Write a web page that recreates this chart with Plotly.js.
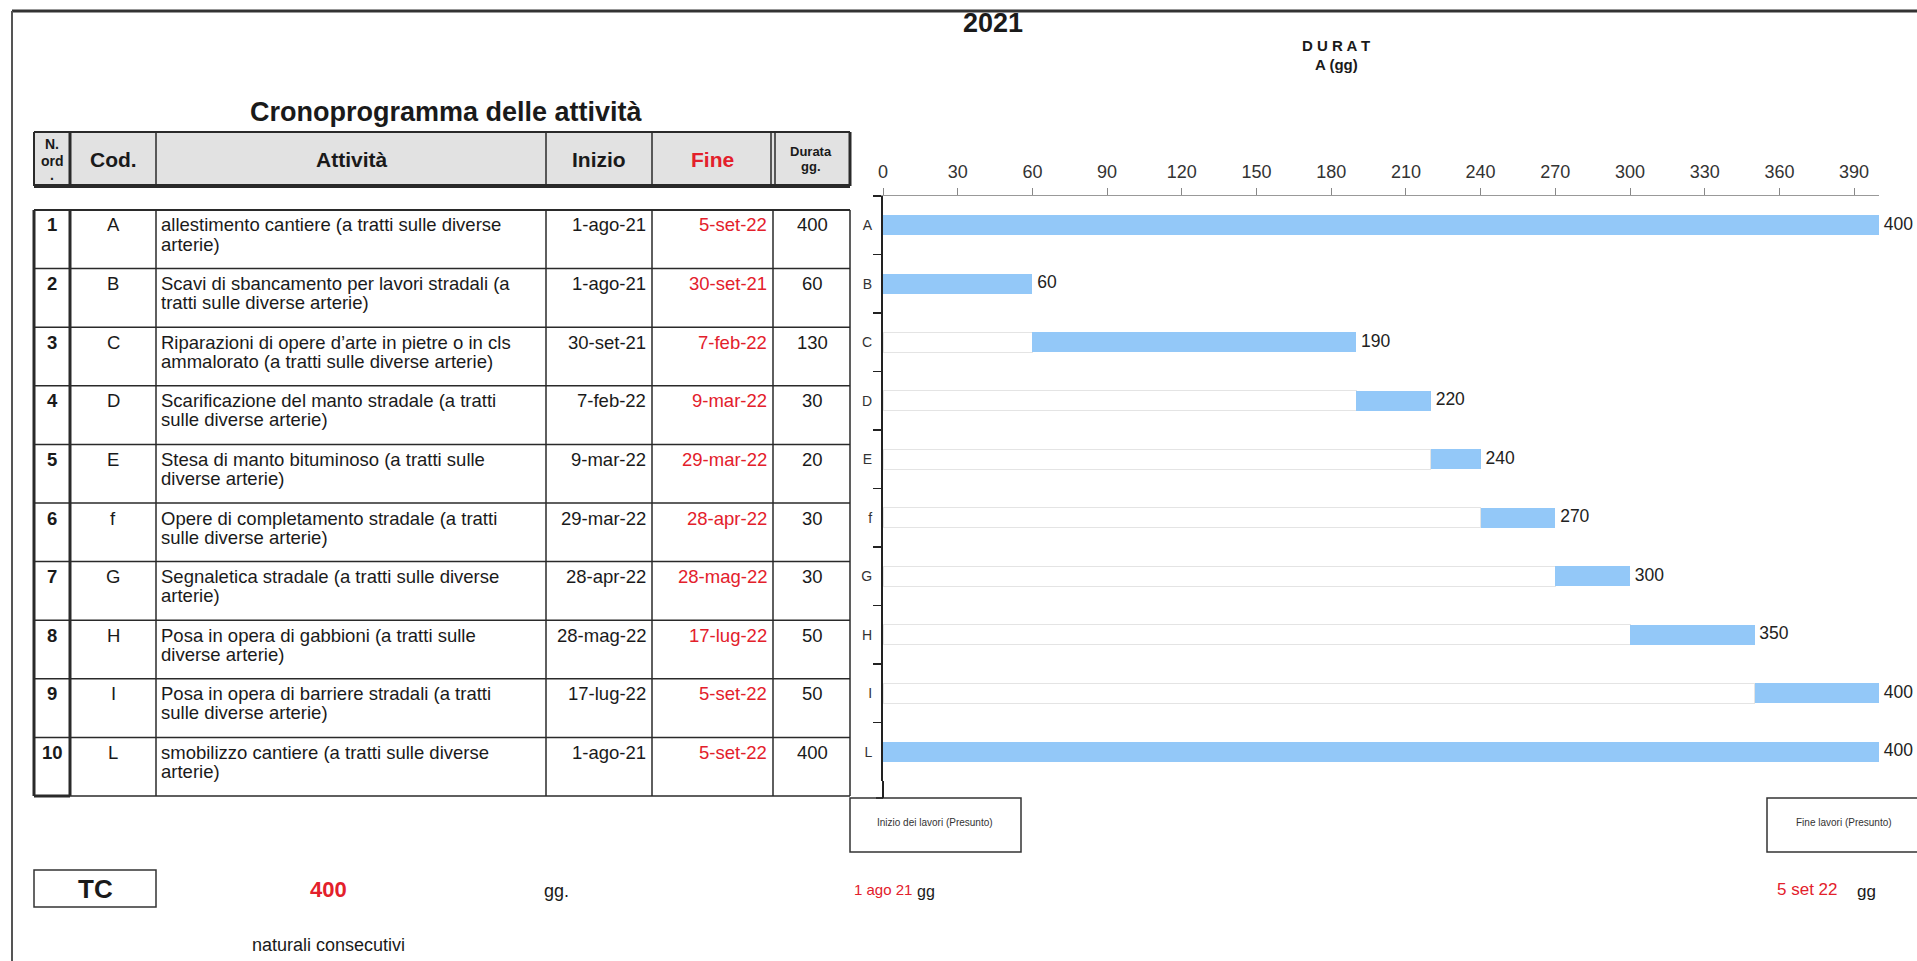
<!DOCTYPE html>
<html>
<head>
<meta charset="utf-8">
<script src="https://cdn.plot.ly/plotly-3.0.1.min.js"></script>
<style>
html,body{margin:0;padding:0;background:#fff;}
#chart{width:1917px;height:961px;}
</style>
</head>
<body>
<div id="chart"></div>
<script>
// ---------- DATA ----------
const nOrd = [1, 2, 3, 4, 5, 6, 7, 8, 9, 10];
const codes = ["A", "B", "C", "D", "E", "f", "G", "H", "I", "L"];
const activities = [
  "allestimento cantiere (a tratti sulle diverse|arterie)",
  "Scavi di sbancamento per lavori stradali (a|tratti sulle diverse arterie)",
  "Riparazioni di opere d\u2019arte in pietre o in cls|ammalorato (a tratti sulle diverse arterie)",
  "Scarificazione del manto stradale (a tratti|sulle diverse arterie)",
  "Stesa di manto bituminoso (a tratti sulle|diverse arterie)",
  "Opere di completamento stradale (a tratti|sulle diverse arterie)",
  "Segnaletica stradale (a tratti sulle diverse|arterie)",
  "Posa in opera di gabbioni (a tratti sulle|diverse arterie)",
  "Posa in opera di barriere stradali (a tratti|sulle diverse arterie)",
  "smobilizzo cantiere (a tratti sulle diverse|arterie)"
];
const startDates = ["1-ago-21", "1-ago-21", "30-set-21", "7-feb-22", "9-mar-22", "29-mar-22", "28-apr-22", "28-mag-22", "17-lug-22", "1-ago-21"];
const endDates = ["5-set-22", "30-set-21", "7-feb-22", "9-mar-22", "29-mar-22", "28-apr-22", "28-mag-22", "17-lug-22", "5-set-22", "5-set-22"];
const durations = [400, 60, 130, 30, 20, 30, 30, 50, 50, 400];
const startOffsets = [0, 0, 60, 190, 220, 240, 270, 300, 350, 0];
const xTicks = [0, 30, 60, 90, 120, 150, 180, 210, 240, 270, 300, 330, 360, 390];
const headerLabels = ["Cod.", "Attivit\u00e0", "Inizio", "Fine"];
const projectStart = "1 ago 21";
const projectEnd = "5 set 22";
const totalDays = 400;
const yearLabel = "2021";

// ---------- LAYOUT HELPERS ----------
const W = 1917, H = 961;
const X = p => p / W;
const Y = p => 1 - p / H;
const FONT = "Liberation Sans, Arial, sans-serif";
const RED = "#e3202b";
const ends = startOffsets.map((s, i) => s + durations[i]);

const shapes = [];
const ann = [];
function line(x0, y0, x1, y1, w, c) {
  shapes.push({type: "line", xref: "paper", yref: "paper", x0: X(x0), y0: Y(y0), x1: X(x1), y1: Y(y1),
    line: {color: c || "#2a2a2a", width: w || 1.5}, layer: "above"});
}
function rect(x0, y0, x1, y1, fill, lc, lw) {
  shapes.push({type: "rect", xref: "paper", yref: "paper", x0: X(x0), y0: Y(y0), x1: X(x1), y1: Y(y1),
    fillcolor: fill || "rgba(0,0,0,0)", line: {color: lc || "rgba(0,0,0,0)", width: lw || 0}, layer: "below"});
}
function text(t, x, y, size, opts) {
  opts = opts || {};
  ann.push({xref: "paper", yref: "paper", x: X(x), y: Y(y), text: t, showarrow: false,
    xanchor: opts.xa || "center", yanchor: "middle",
    font: {family: FONT, size: size, color: opts.color || "#1a1a1a", weight: opts.bold ? "bold" : "normal"}});
}

// frame
line(12, 11, W, 11, 3, "#333");
line(12, 11, 12, H, 2, "#555");

// titles
text(yearLabel, 993, 23, 27, {bold: true});
text("D U R A T", 1336, 46, 15, {bold: true});
text("A (gg)", 1336, 65, 15, {bold: true});
text("Cronoprogramma delle attivit\u00e0", 446, 112, 27, {bold: true});

// header row
const cols = [34, 70, 156, 546, 652, 773, 850];
const hTop = 132, hBot = 186;
rect(cols[0], hTop, cols[6], hBot, "#e2e2e2");
line(cols[0], hTop, cols[6], hTop, 2);
line(cols[0], hBot, cols[6], hBot, 4);
line(cols[0], hTop, cols[0], hBot, 2);
line(cols[1], hTop, cols[1], hBot, 3);
line(cols[2], hTop, cols[2], hBot, 1.5);
line(cols[3], hTop, cols[3], hBot, 1.5);
line(cols[4], hTop, cols[4], hBot, 1.5);
line(cols[5] - 2, hTop, cols[5] - 2, hBot, 1.5);
line(cols[5] + 2, hTop, cols[5] + 2, hBot, 1.5);
line(cols[6], hTop, cols[6], hBot, 3);
text("N.", 52, 144, 14, {bold: true});
text("ord", 52, 161, 14, {bold: true});
text(".", 52, 175, 14, {bold: true});
text(headerLabels[0], 113, 160, 21, {bold: true});
text(headerLabels[1], 351, 160, 21, {bold: true});
text(headerLabels[2], 599, 160, 21, {bold: true});
text(headerLabels[3], 712, 160, 21, {bold: true, color: RED});
text("Durata", 811, 151, 13, {bold: true});
text("gg.", 811, 166, 13, {bold: true});

// data rows
const rTop = 210, rPitch = 58.6;
const rBot = rTop + rPitch * nOrd.length;
const TS = 18.5;
line(cols[0], rTop, cols[6], rTop, 2);
nOrd.forEach((n, i) => {
  const t = rTop + i * rPitch;
  if (i > 0) line(cols[0], t, cols[6], t, 1.5);
  const y1 = t + 15;
  text(String(n), 52, y1, TS, {bold: true});
  text(codes[i], 113, y1, TS);
  activities[i].split("|").forEach((ln, k) => text(ln, 159, y1 + k * 19, TS, {xa: "left"}));
  text(startDates[i], 648, y1, TS, {xa: "right"});
  text(endDates[i], 769, y1, TS, {xa: "right", color: RED});
  text(String(durations[i]), 812, y1, TS);
});
line(cols[0], rBot, cols[6], rBot, 1.5);
line(cols[0], rTop, cols[0], rBot, 3);
line(cols[1], rTop, cols[1], rBot, 3);
line(cols[0], rBot, cols[1], rBot, 3);
[2, 3, 4, 5, 6].forEach(c => line(cols[c], rTop, cols[c], rBot, 1.5));

// y-axis extension to the boxes row
line(883, 781, 883, 798, 2, "#222");
line(876, 798, 883, 798, 1.5, "#222");

// bottom boxes
rect(850, 798, 1021, 852, "rgba(0,0,0,0)", "#333", 1.5);
text("Inizio dei lavori (Presunto)", 935, 822, 10, {color: "#333"});
rect(1767, 798, 1930, 852, "rgba(0,0,0,0)", "#333", 1.5);
text("Fine lavori (Presunto)", 1844, 822, 10, {color: "#333"});
text(projectStart, 852, 889, 15, {xa: "left", color: RED});
text("gg", 915, 891, 16, {xa: "left"});
text(projectEnd, 1775, 889, 17, {xa: "left", color: RED});
text("gg", 1855, 891, 17, {xa: "left"});
rect(34, 870, 156, 907, "rgba(0,0,0,0)", "#333", 1.5);
text("TC", 95, 889, 26, {bold: true});
text(String(totalDays), 328, 889, 22, {bold: true, color: RED});
text("gg.", 556, 891, 18);
text("naturali consecutivi", 328, 945, 18);

// ---------- TRACES ----------
const traces = [
  {type: "bar", orientation: "h", y: codes, x: startOffsets, hoverinfo: "skip",
   marker: {color: "rgba(255,255,255,0)", line: {color: "#e4e4e4", width: 1}}},
  {type: "bar", orientation: "h", y: codes, x: durations, hoverinfo: "skip",
   marker: {color: "#93c8f8", line: {width: 0}}},
  {type: "scatter", mode: "text", y: codes, x: ends, text: ends.map(v => "\u00a0" + v),
   textposition: "middle right", cliponaxis: false, hoverinfo: "skip",
   textfont: {family: FONT, size: 17.5, color: "#222"}}
];

const layout = {
  width: W, height: H,
  margin: {l: 0, r: 0, t: 0, b: 0},
  paper_bgcolor: "#fff", plot_bgcolor: "rgba(0,0,0,0)",
  showlegend: false,
  barmode: "stack", bargap: 0.65,
  font: {family: FONT},
  xaxis: {domain: [X(883), X(1879)], range: [0, 400], side: "top",
    tickmode: "array", tickvals: xTicks, ticktext: xTicks.map(String),
    ticks: "outside", ticklen: 7, tickcolor: "#888", tickwidth: 1,
    showline: true, linecolor: "#999", linewidth: 1,
    showgrid: false, zeroline: false, ticklabelstandoff: 3,
    tickfont: {family: FONT, size: 18, color: "#333"}, fixedrange: true},
  yaxis: {domain: [Y(781), Y(196)], type: "category", categoryorder: "array", categoryarray: codes,
    range: [codes.length - 0.5, -0.5], tickson: "boundaries",
    ticks: "outside", ticklen: 8, tickcolor: "#222", tickwidth: 1.5,
    showline: true, linecolor: "#222", linewidth: 2,
    showgrid: false, zeroline: false, ticklabelstandoff: 6,
    tickfont: {family: FONT, size: 14, color: "#333"}, fixedrange: true},
  shapes: shapes,
  annotations: ann
};

Plotly.newPlot("chart", traces, layout, {displayModeBar: false, staticPlot: true});
</script>
</body>
</html>
